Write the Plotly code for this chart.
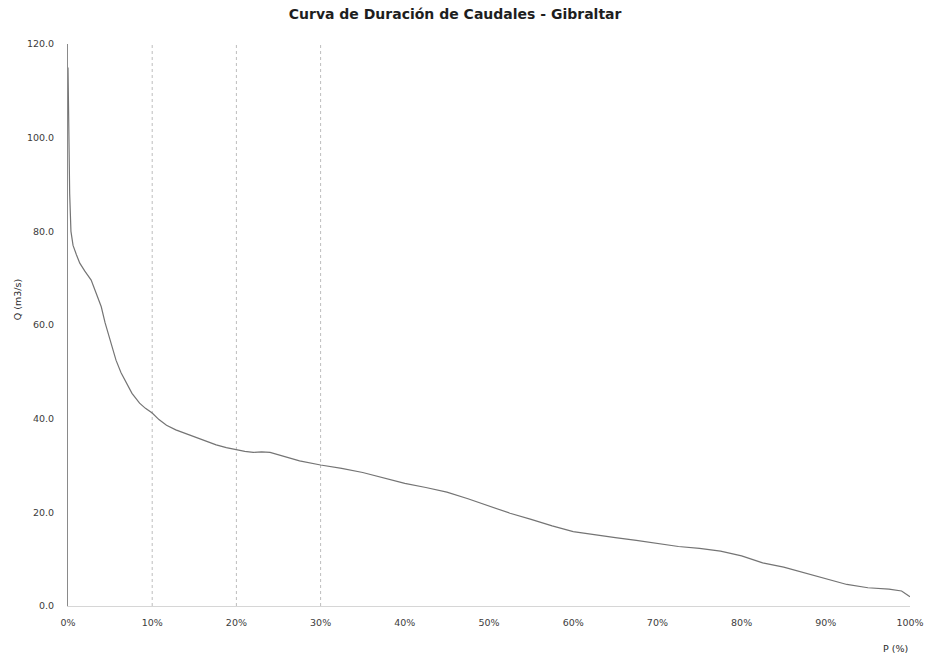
import plotly.graph_objects as go

# Flow duration curve data
P_PCT = [0.0, 0.1, 0.2, 0.35, 0.6, 1.0, 1.4, 2.0, 2.75, 3.3, 3.95, 4.4, 4.9, 5.3, 5.7,
         6.3, 6.9, 7.6, 8.5, 9.2, 10.0, 10.8, 11.7, 12.8, 14.0, 15.2, 16.4, 17.6, 18.8,
         20.0, 21.0, 22.0, 23.0, 24.0, 25.5, 27.5, 30.0, 32.5, 35.0, 37.5, 40.0, 42.5,
         45.0, 47.5, 50.0, 52.5, 55.0, 57.5, 60.0, 62.5, 65.0, 67.5, 70.0, 72.5, 75.0,
         77.5, 80.0, 82.5, 85.0, 87.5, 90.0, 92.5, 95.0, 97.5, 99.0, 100.0]
Q_M3S = [115.0, 100.0, 88.0, 80.0, 77.0, 75.0, 73.2, 71.5, 69.6, 67.0, 63.9, 60.5, 57.5,
         55.0, 52.5, 49.8, 47.6, 45.4, 43.3, 42.2, 41.2, 39.8, 38.6, 37.6, 36.8, 36.0,
         35.2, 34.4, 33.8, 33.3, 33.0, 32.8, 32.9, 32.8, 32.0, 31.0, 30.1, 29.4, 28.5,
         27.4, 26.2, 25.3, 24.3, 22.9, 21.4, 19.8, 18.5, 17.1, 15.9, 15.2, 14.6, 14.0,
         13.4, 12.7, 12.3, 11.7, 10.7, 9.2, 8.3, 7.1, 5.8, 4.6, 3.9, 3.6, 3.2, 2.0]

X_TICKS = [0.0, 0.1, 0.2, 0.3, 0.4, 0.5, 0.6, 0.7, 0.8, 0.9, 1.0]
X_TICK_LABELS = ["0%", "10%", "20%", "30%", "40%", "50%", "60%", "70%", "80%", "90%", "100%"]
Y_TICKS = [0, 20, 40, 60, 80, 100, 120]
Y_TICK_LABELS = ["0.0", "20.0", "40.0", "60.0", "80.0", "100.0", "120.0"]
GRID_P = [0.1, 0.2, 0.3]

TITLE = "Curva de Duración de Caudales - Gibraltar"
FONT = "'DejaVu Sans', Verdana, sans-serif"
TXT = "#3c3c3c"

x_frac = [p / 100.0 for p in P_PCT]

fig = go.Figure()
fig.add_trace(go.Scatter(
    x=x_frac, y=Q_M3S, mode="lines",
    line=dict(color="#747474", width=1.2),
    showlegend=False, hoverinfo="x+y",
))

for g in GRID_P:
    fig.add_shape(type="line", xref="x", yref="y", x0=g, x1=g, y0=0, y1=120,
                  line=dict(color="#bdbdbd", width=1, dash="dot"), layer="below")

fig.update_layout(
    width=925, height=661,
    paper_bgcolor="white", plot_bgcolor="white",
    margin=dict(l=68, r=15, t=44, b=55, autoexpand=False),
    title=dict(text="<b>" + TITLE + "</b>", x=0.492, xanchor="center",
               y=0.978, yanchor="middle",
               font=dict(family=FONT, size=14, color="#1e1e1e")),
    font=dict(family=FONT, size=9.5, color=TXT),
    xaxis=dict(range=[0, 1], tickvals=X_TICKS, ticktext=X_TICK_LABELS,
               showgrid=False, zeroline=False, showline=True,
               linecolor="#d6d6d6", linewidth=1,
               ticks="outside", ticklen=8, tickcolor="rgba(0,0,0,0)",
               automargin=False,
               tickfont=dict(family=FONT, size=9.5, color=TXT)),
    yaxis=dict(range=[0, 120], tickvals=Y_TICKS, ticktext=Y_TICK_LABELS,
               showgrid=False, zeroline=False, showline=True,
               linecolor="#8a8a8a", linewidth=1,
               ticks="outside", ticklen=11, tickcolor="rgba(0,0,0,0)",
               automargin=False,
               tickfont=dict(family=FONT, size=9.5, color=TXT)),
    annotations=[
        dict(text="Q (m3/s)", xref="paper", yref="paper", x=-0.06, y=0.545,
             textangle=-90, showarrow=False, xanchor="center", yanchor="middle",
             font=dict(family=FONT, size=9.5, color="#2a2a2a")),
        dict(text="P (%)", xref="paper", yref="paper", x=1.0, y=-0.075,
             showarrow=False, xanchor="right", yanchor="middle",
             font=dict(family=FONT, size=9.5, color="#2a2a2a")),
    ],
)

fig.write_html("out.html", config={"displayModeBar": False},
               post_script="document.body.style.margin='0';")
